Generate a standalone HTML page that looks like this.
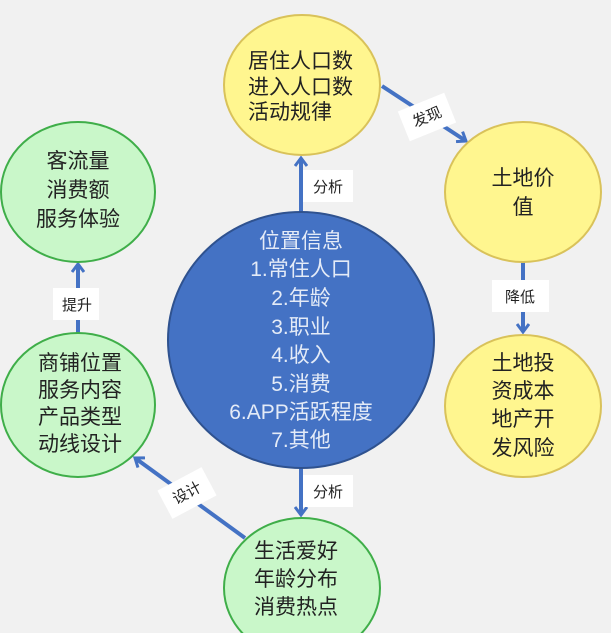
<!DOCTYPE html>
<html><head><meta charset="utf-8"><style>
html,body{margin:0;padding:0;background:#f1f1f1;}
svg{display:block}
text{font-family:"Liberation Sans","Noto Sans CJK SC",sans-serif;}
</style></head><body>
<svg width="611" height="633" viewBox="0 0 611 633" xmlns="http://www.w3.org/2000/svg">
<defs>
<marker id="a" markerWidth="14" markerHeight="14" refX="9" refY="7" orient="auto" markerUnits="userSpaceOnUse">
<path d="M1,1 L9,7 L1,13" fill="none" stroke="#4472c4" stroke-width="3"/>
</marker>
</defs>
<rect width="611" height="633" fill="#f1f1f1"/>
<g stroke="#4472c4" stroke-width="4" fill="none">
<line x1="301" y1="212" x2="301" y2="158" marker-end="url(#a)"/>
<line x1="382" y1="86" x2="466" y2="141" marker-end="url(#a)"/>
<line x1="523" y1="262" x2="523" y2="332" marker-end="url(#a)"/>
<line x1="78" y1="333" x2="78" y2="264" marker-end="url(#a)"/>
<line x1="301" y1="467" x2="301" y2="515" marker-end="url(#a)"/>
<line x1="245" y1="538" x2="135" y2="458" marker-end="url(#a)"/>
</g>
<ellipse cx="302" cy="85" rx="78" ry="70" fill="#fff68f" stroke="#d9c25a" stroke-width="2"/>
<ellipse cx="523" cy="192" rx="78" ry="70" fill="#fff68f" stroke="#d9c25a" stroke-width="2"/>
<ellipse cx="523" cy="406" rx="78" ry="71" fill="#fff68f" stroke="#d9c25a" stroke-width="2"/>
<ellipse cx="78" cy="192" rx="77" ry="70" fill="#c9f7c9" stroke="#3fae49" stroke-width="2"/>
<ellipse cx="78" cy="405" rx="77" ry="72" fill="#c9f7c9" stroke="#3fae49" stroke-width="2"/>
<ellipse cx="302" cy="588" rx="78" ry="70" fill="#c9f7c9" stroke="#3fae49" stroke-width="2"/>
<ellipse cx="301" cy="340" rx="133" ry="128" fill="#4472c4" stroke="#2f528f" stroke-width="2"/>
<g fill="#fff">
<rect x="303" y="170" width="50" height="32"/>
<rect x="303" y="475" width="50" height="32"/>
<rect x="492" y="280" width="57" height="32"/>
<rect x="53" y="288" width="46" height="32"/>
<rect x="402" y="101" width="50" height="32" transform="rotate(-22 427 117)"/>
<rect x="162" y="477" width="50" height="32" transform="rotate(-28 187 493)"/>
</g>
<g font-size="15" fill="#222" text-anchor="middle">
<text x="328" y="192">分析</text>
<text x="328" y="497">分析</text>
<text x="520" y="302">降低</text>
<text x="77" y="310">提升</text>
<text x="427" y="122" transform="rotate(-22 427 117)">发现</text>
<text x="187" y="498" transform="rotate(-28 187 493)">设计</text>
</g>
<g font-size="21" fill="#222">
<text x="248" y="68">居住人口数</text>
<text x="248" y="94">进入人口数</text>
<text x="248" y="119">活动规律</text>
</g>
<g font-size="21" fill="#222" text-anchor="middle">
<text x="78" y="168">客流量</text>
<text x="78" y="197">消费额</text>
<text x="78" y="226">服务体验</text>
<text x="523" y="185">土地价</text>
<text x="523" y="214">值</text>
<text x="523" y="370">土地投</text>
<text x="523" y="398">资成本</text>
<text x="523" y="426">地产开</text>
<text x="523" y="455">发风险</text>
<text x="80" y="370">商铺位置</text>
<text x="80" y="397">服务内容</text>
<text x="80" y="424">产品类型</text>
<text x="80" y="451">动线设计</text>
<text x="296" y="558">生活爱好</text>
<text x="296" y="586">年龄分布</text>
<text x="296" y="614">消费热点</text>
</g>
<g font-size="21" fill="#e4ebf7" text-anchor="middle">
<text x="301" y="248">位置信息</text>
<text x="301" y="276">1.常住人口</text>
<text x="301" y="305">2.年龄</text>
<text x="301" y="334">3.职业</text>
<text x="301" y="362">4.收入</text>
<text x="301" y="391">5.消费</text>
<text x="301" y="419">6.APP活跃程度</text>
<text x="301" y="447">7.其他</text>
</g>
</svg>
</body></html>
